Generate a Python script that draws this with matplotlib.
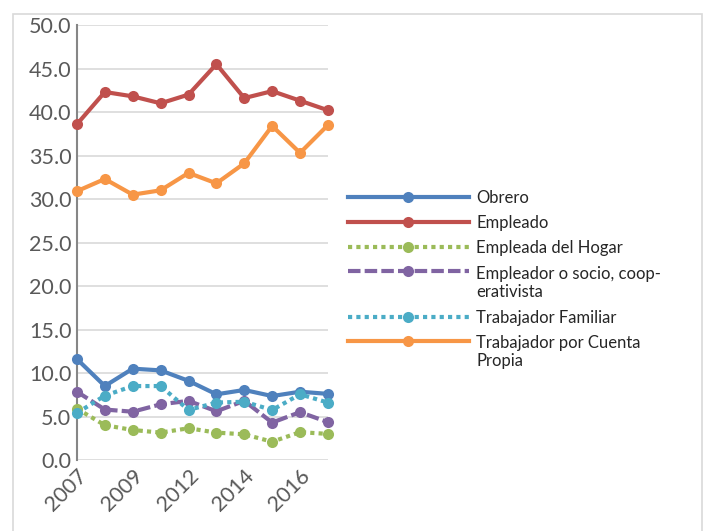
import matplotlib.pyplot as plt
from matplotlib.patches import Rectangle

plt.rcParams['font.family'] = ['Lato', 'DejaVu Sans']

years = ['2007', '2008', '2009', '2011', '2012', '2013', '2014', '2015', '2016', '2017']
shown_years = ['2007', '2009', '2012', '2014', '2016']

obrero = [11.6, 8.5, 10.5, 10.3, 9.1, 7.55, 8.05, 7.35, 7.85, 7.6]
empleado = [38.6, 42.3, 41.8, 41.0, 42.0, 45.5, 41.6, 42.4, 41.3, 40.2]
empleada_hogar = [5.9, 4.0, 3.45, 3.15, 3.65, 3.15, 2.95, 2.1, 3.2, 3.0]
empleador = [7.85, 5.8, 5.55, 6.4, 6.8, 5.6, 6.8, 4.3, 5.5, 4.35]
familiar = [5.4, 7.4, 8.5, 8.5, 5.75, 6.6, 6.7, 5.75, 7.55, 6.6]
cuenta_propia = [30.9, 32.3, 30.5, 31.0, 33.0, 31.8, 34.1, 38.4, 35.3, 38.5]

series = [
    ('Obrero', obrero, '#4F81BD', '-'),
    ('Empleado', empleado, '#C0504D', '-'),
    ('Empleada del Hogar', empleada_hogar, '#9BBB59', (0, (1, 1))),
    ('Empleador o socio, coop-\nerativista', empleador, '#8064A2', (0, (3, 1))),
    ('Trabajador Familiar', familiar, '#4BACC6', (0, (1, 1))),
    ('Trabajador por Cuenta\nPropia', cuenta_propia, '#F79646', '-'),
]

fig = plt.figure(figsize=(7.06, 5.31), dpi=100)
fig.patches.append(Rectangle((0.0184, -0.01), 0.9759, 0.9836, transform=fig.transFigure,
                             fill=False, edgecolor='#D9D9D9', linewidth=1.2))
ax = fig.add_axes([0.109, 0.1337, 0.3555, 0.8192])

x = list(range(len(years)))
for label, vals, color, ls in series:
    ax.plot(x, vals, color=color, linestyle=ls, linewidth=3, marker='o', markersize=8,
            markeredgewidth=0, label=label, clip_on=False, zorder=3,
            dash_capstyle='butt')

ax.set_xlim(0, len(years) - 1)
ax.set_ylim(0, 50)
ax.set_yticks(range(0, 51, 5))
ax.set_yticklabels(['%.1f' % v for v in range(0, 51, 5)])
ax.set_xticks([years.index(y) for y in shown_years])
ax.set_xticklabels(shown_years, rotation=45, ha='right', rotation_mode='anchor')
ax.tick_params(axis='both', length=0, labelsize=15.5, colors='#595959', pad=4)
ax.grid(axis='y', color='#D9D9D9', linewidth=1.2)
ax.set_axisbelow(True)
for s in ['top', 'right', 'bottom']:
    ax.spines[s].set_visible(False)
ax.spines['left'].set_color('#868686')
ax.spines['left'].set_linewidth(1.5)

leg = fig.legend(loc='upper left', bbox_to_anchor=(0.493, 0.643), frameon=False,
                 fontsize=12, handlelength=7.25, handletextpad=0.45, numpoints=1,
                 labelspacing=0.56, borderpad=0, borderaxespad=0)
for t in leg.get_texts():
    t.set_color('#262626')

# align handle of two-line labels with the first line
for col in leg._legend_handle_box.get_children():
    for row in col.get_children():
        kids = row.get_children()
        if len(kids) == 2 and '\n' in kids[1]._text.get_text():
            row.align = 'top'

fig.savefig('out.png', dpi=100)
